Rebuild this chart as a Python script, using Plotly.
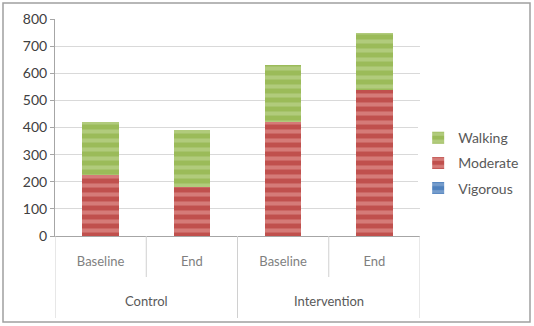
import plotly.graph_objects as go

groups = ["Control", "Control", "Intervention", "Intervention"]
phases = ["Baseline", "End", "Baseline", "End"]
vigorous = [0, 0, 0, 0]
moderate = [225, 180, 420, 540]
walking = [195, 210, 210, 210]
group_names = ["Control", "Intervention"]

cats = [f"{g}|{p}" for g, p in zip(groups, phases)]
font = "Lato, Open Sans, sans-serif"

# plot area: x 55..420, y 19..236 (px)
H = 217.0

fig = go.Figure()
series = [
    ("Vigorous", vigorous, "#4F81BD", "#9DB9DC", 3),
    ("Moderate", moderate, "#C0504D", "#E9A6A4", 2),
    ("Walking", walking, "#9BBB59", "#C8DBA0", 1),
]
for name, vals, col, light, rank in series:
    fig.add_bar(x=cats, y=vals, name=name, legendgroup=name, legendrank=rank,
                marker=dict(color=col, line=dict(width=0),
                            pattern=dict(shape="-", fgcolor=light, size=9, solidity=0.45)))

fig.update_layout(
    barmode="stack", bargap=0.6,
    width=534, height=326,
    margin=dict(l=55, r=114, t=19, b=90, autoexpand=False),
    paper_bgcolor="white", plot_bgcolor="white",
    font=dict(family=font, size=13, color="#595959"),
    legend=dict(x=0.995, y=0.525, xanchor="left", yanchor="top",
                traceorder="grouped", tracegroupgap=4,
                font=dict(size=14, color="#595959"), itemwidth=30),
    showlegend=True,
)
fig.update_yaxes(range=[0, 800], dtick=100, showgrid=True, gridcolor="#D9D9D9",
                 showline=True, linecolor="#A6A6A6", ticks="outside", ticklen=4,
                 tickcolor="#A6A6A6", tickfont=dict(size=14, color="#404040"),
                 zeroline=False)
fig.update_xaxes(type="category", showline=True, linecolor="#A6A6A6", ticks="",
                 tickvals=cats, ticktext=phases, ticklabelstandoff=13,
                 tickfont=dict(size=13, color="#7F7F7F"), range=[-0.5, 3.5])

# axis dividers
div_col = "#D0D0D0"
for xb in [0.5, 2.5]:
    fig.add_shape(type="line", xref="x", yref="paper", x0=xb, x1=xb,
                  y0=0, y1=-41 / H, line=dict(color=div_col, width=1))
for xb in [-0.5, 1.5, 3.5]:
    fig.add_shape(type="line", xref="x", yref="paper", x0=xb, x1=xb,
                  y0=0, y1=-82 / H, line=dict(color=div_col, width=1))
for i, g in enumerate(group_names):
    fig.add_annotation(x=2 * i + 0.5, xref="x", y=-65 / H, yref="paper",
                       text=g, showarrow=False, yanchor="middle",
                       font=dict(size=13, color="#595959"))

fig.add_shape(type="rect", xref="paper", yref="paper",
              x0=-52 / 365, x1=475 / 365, y0=-86 / H, y1=233 / H,
              line=dict(color="#A0A0A0", width=1.5))

fig.write_html("out.html")
